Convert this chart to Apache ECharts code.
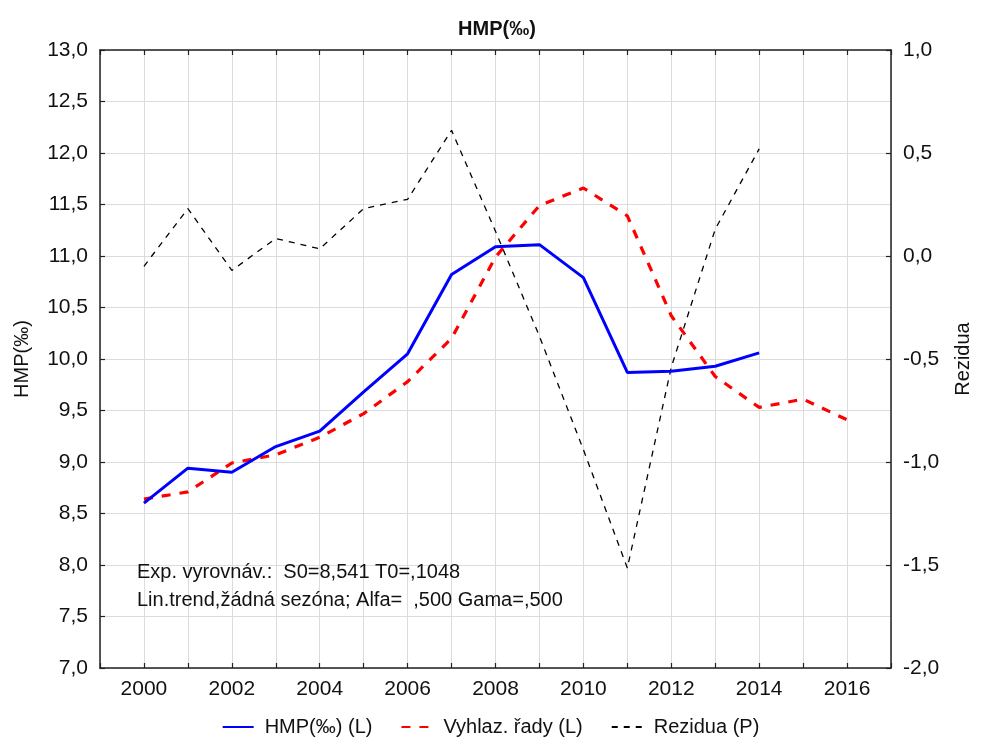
<!DOCTYPE html>
<html>
<head>
<meta charset="utf-8">
<script src="https://cdn.jsdelivr.net/npm/echarts@6/dist/echarts.min.js"></script>
<style>
  html, body { margin: 0; padding: 0; background: #fff; overflow: hidden; }
  #chart { width: 981px; height: 737px; }
</style>
</head>
<body>
<div id="chart"></div>
<script>
// Years and series values
const years = [2000, 2001, 2002, 2003, 2004, 2005, 2006, 2007, 2008, 2009, 2010, 2011, 2012, 2013, 2014, 2015, 2016];
const hmp = [8.60, 8.94, 8.90, 9.15, 9.30, 9.68, 10.05, 10.82, 11.09, 11.11, 10.79, 9.87, 9.88, 9.93, 10.06];
const smoothed = [8.64, 8.71, 8.99, 9.07, 9.24, 9.47, 9.78, 10.20, 10.99, 11.49, 11.66, 11.39, 10.42, 9.83, 9.53, 9.61, 9.41];
const residuals = [-0.05, 0.23, -0.07, 0.085, 0.035, 0.23, 0.275, 0.61, 0.12, -0.39, -0.94, -1.515, -0.54, 0.13, 0.52];

const leftTicks = { min: 7, max: 13, step: 0.5 };
const rightTicks = { min: -2, max: 1, step: 0.5 };
const yearRange = { min: 1999, max: 2017 };

const pairs = (vals) => vals.map((v, i) => [years[i], v]);
const commaFmt = (v) => v.toFixed(1).replace('.', ',');

const FONT = 'Liberation Sans, Arial, sans-serif';
const frame = { show: true, onZero: false, lineStyle: { color: '#222', width: 1.5 } };
const inTick = { show: true, inside: true, length: 5, lineStyle: { color: '#222', width: 1.2 } };
const grid = { show: true, lineStyle: { color: '#dcdcdc', width: 1 } };

const chart = echarts.init(document.getElementById('chart'), null, { renderer: 'canvas', width: 981, height: 737 });

chart.setOption({
  animation: false,
  backgroundColor: '#fff',
  textStyle: { fontFamily: FONT },
  title: {
    text: 'HMP(‰)',
    left: 492, top: 14, textAlign: 'center',
    textStyle: { fontFamily: FONT, fontSize: 20, fontWeight: 'bold', color: '#111' }
  },
  grid: { left: 100, right: 83, top: 50, bottom: 69, containLabel: false },
  xAxis: [
    {
      type: 'value', position: 'bottom',
      min: yearRange.min, max: yearRange.max, interval: 1,
      axisLine: frame, axisTick: inTick, splitLine: grid,
      axisLabel: {
        color: '#111', fontSize: 21, fontFamily: FONT, margin: 11,
        formatter: (v) => (v % 2 === 0 ? String(v) : '')
      }
    },
    {
      type: 'value', position: 'top',
      min: yearRange.min, max: yearRange.max, interval: 1,
      axisLine: frame, axisTick: inTick, splitLine: { show: false },
      axisLabel: { show: false }
    }
  ],
  yAxis: [
    {
      type: 'value', position: 'left',
      min: leftTicks.min, max: leftTicks.max, interval: leftTicks.step,
      name: 'HMP(‰)', nameLocation: 'middle', nameGap: 68, nameRotate: 90,
      nameTextStyle: { color: '#111', fontSize: 20, fontFamily: FONT },
      axisLine: frame, axisTick: inTick, splitLine: grid,
      axisLabel: { color: '#111', fontSize: 21, fontFamily: FONT, margin: 12, formatter: commaFmt }
    },
    {
      type: 'value', position: 'right',
      min: rightTicks.min, max: rightTicks.max, interval: rightTicks.step,
      name: 'Rezidua', nameLocation: 'middle', nameGap: 62, nameRotate: 90,
      nameTextStyle: { color: '#111', fontSize: 20, fontFamily: FONT },
      axisLine: frame, axisTick: inTick, splitLine: { show: false },
      axisLabel: { color: '#111', fontSize: 21, fontFamily: FONT, margin: 12, formatter: commaFmt }
    }
  ],
  legend: {
    top: 712, left: 'center',
    itemWidth: 31, itemHeight: 12, itemGap: 28,
    itemStyle: { opacity: 0 },
    textStyle: { color: '#111', fontSize: 20, fontFamily: FONT, padding: [0, 0, 0, 6] },
    data: ['HMP(‰) (L)', 'Vyhlaz. řady (L)', 'Rezidua (P)']
  },
  graphic: [
    {
      type: 'text', left: 137, top: 562, z: 100,
      style: { text: 'Exp. vyrovnáv.:  S0=8,541 T0=,1048', fill: '#111', font: '20px ' + FONT }
    },
    {
      type: 'text', left: 137, top: 590, z: 100,
      style: { text: 'Lin.trend,žádná sezóna; Alfa=  ,500 Gama=,500', fill: '#111', font: '20px ' + FONT }
    }
  ],
  series: [
    {
      name: 'Rezidua (P)', type: 'line', yAxisIndex: 1, z: 2,
      data: pairs(residuals), symbol: 'none', showSymbol: false,
      lineStyle: { color: '#000', width: 1.3, type: [6, 6] },
      itemStyle: { color: '#000' }
    },
    {
      name: 'Vyhlaz. řady (L)', type: 'line', yAxisIndex: 0, z: 3,
      data: pairs(smoothed), symbol: 'none', showSymbol: false,
      lineStyle: { color: '#ff0000', width: 3.2, type: [9, 9] },
      itemStyle: { color: '#ff0000' }
    },
    {
      name: 'HMP(‰) (L)', type: 'line', yAxisIndex: 0, z: 4,
      data: pairs(hmp), symbol: 'none', showSymbol: false,
      lineStyle: { color: '#0000ff', width: 3 },
      itemStyle: { color: '#0000ff' }
    }
  ]
});
</script>
</body>
</html>
